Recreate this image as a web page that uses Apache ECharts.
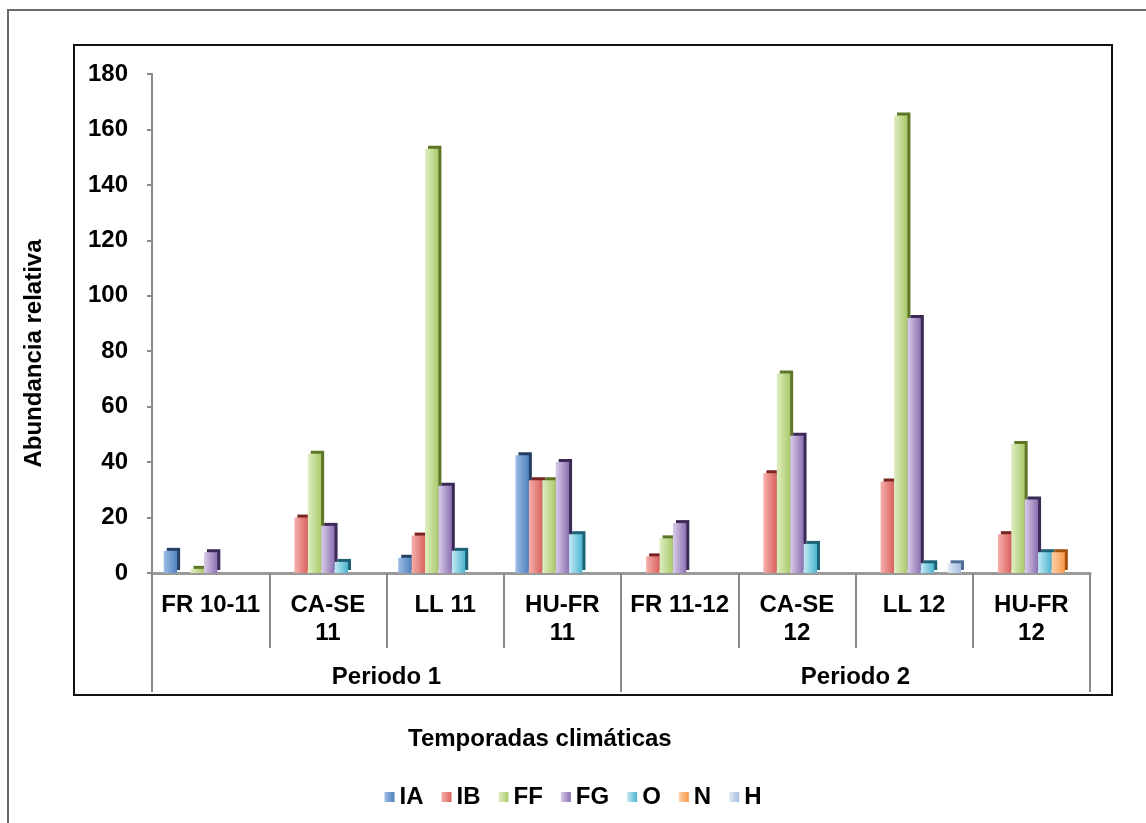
<!DOCTYPE html>
<html>
<head>
<meta charset="utf-8">
<script src="https://cdn.jsdelivr.net/npm/echarts@6/dist/echarts.min.js"></script>
<style>
  html, body { margin: 0; padding: 0; background: #fff; }
  #chart { width: 1146px; height: 823px; }
</style>
</head>
<body>
<div id="chart"></div>
<script>
// Seasons (two-line labels) and the two sampling periods
const temporadas = ['FR 10-11', 'CA-SE\n11', 'LL 11', 'HU-FR\n11', 'FR 11-12', 'CA-SE\n12', 'LL 12', 'HU-FR\n12'];
const periodos = ['Periodo 1', 'Periodo 2'];

// Relative abundance per group and season
const IA = [8, 0, 5.5, 42.5, 0, 0, 0, 0];
const IB = [0, 20, 13.5, 33.5, 6, 36, 33, 14];
const FF = [1.5, 43, 153, 33.5, 12.5, 72, 165, 46.5];
const FG = [7.5, 17, 31.5, 40, 18, 49.5, 92, 26.5];
const O  = [0, 4, 8, 14, 0, 10.5, 3.5, 7.5];
const N  = [0, 0, 0, 0, 0, 0, 0, 7.5];
const H  = [0, 0, 0, 0, 0, 0, 3.5, 0];

const yTicks = { min: 0, max: 180, interval: 20 };

const FONT = '"Liberation Sans", Arial, sans-serif';
const FS = 24;

// name, values, light face, base colour, dark side
const groups = [
  ['IA', IA, '#9dbde6', '#4f81bd', '#243f66'],
  ['IB', IB, '#f6b0ad', '#d9625e', '#7a2522'],
  ['FF', FF, '#e0eec2', '#a9c96a', '#5d7628'],
  ['FG', FG, '#d9cdea', '#8c70b0', '#3b2a55'],
  ['O',  O,  '#c4eaf4', '#4bb4d0', '#1d6274'],
  ['N',  N,  '#fdd3ad', '#f79646', '#a4530d'],
  ['H',  H,  '#e2ebf6', '#a3bde0', '#4f6f99']
];

const series = groups.map(([name, vals, light, base, dark]) => ({
  name: name,
  type: 'bar',
  data: vals,
  barGap: '0%',
  barCategoryGap: '20%',
  itemStyle: {
    color: {
      type: 'linear', x: 0, y: 0, x2: 1, y2: 0,
      colorStops: [{ offset: 0, color: light }, { offset: 1, color: base }]
    },
    shadowColor: dark,
    shadowOffsetX: 3,
    shadowOffsetY: -3,
    shadowBlur: 0
  }
}));

const chart = echarts.init(document.getElementById('chart'), null, { renderer: 'canvas' });

chart.setOption({
  animation: false,
  backgroundColor: '#fff',
  textStyle: { fontFamily: FONT },
  grid: { left: 152, right: 56, top: 74, bottom: 250, containLabel: false },
  legend: {
    data: groups.map(g => ({ name: g[0], icon: 'rect' })),
    bottom: 9,
    left: 'center',
    itemWidth: 10,
    itemHeight: 10,
    itemGap: 18,
    textStyle: { fontFamily: FONT, fontWeight: 'bold', fontSize: FS, color: '#000' }
  },
  xAxis: [
    {
      type: 'category',
      data: temporadas,
      position: 'bottom',
      axisLine: { show: true, lineStyle: { color: '#9a9a9a', width: 3 } },
      axisTick: { show: true, interval: 0, length: 75, lineStyle: { color: '#8a8a8a', width: 2 } },
      axisLabel: {
        interval: 0, margin: 18,
        fontFamily: FONT, fontWeight: 'bold', fontSize: FS, color: '#000',
        lineHeight: 28, verticalAlign: 'top'
      },
      splitLine: { show: false }
    },
    {
      type: 'category',
      data: periodos,
      position: 'bottom',
      axisLine: { show: false },
      axisTick: { show: true, interval: 0, length: 119, lineStyle: { color: '#8a8a8a', width: 2 } },
      axisLabel: {
        interval: 0, margin: 92,
        fontFamily: FONT, fontWeight: 'bold', fontSize: FS, color: '#000',
        verticalAlign: 'top'
      },
      splitLine: { show: false }
    }
  ],
  yAxis: {
    type: 'value',
    min: yTicks.min, max: yTicks.max, interval: yTicks.interval,
    name: 'Abundancia relativa',
    nameLocation: 'middle',
    nameGap: 106,
    nameRotate: 90,
    nameTextStyle: {
      fontFamily: FONT, fontWeight: 'bold', fontSize: FS, color: '#000',
      padding: [0, 60, 0, 0]
    },
    axisLine: { show: true, lineStyle: { color: '#8a8a8a', width: 2 } },
    axisTick: { show: true, length: 5, lineStyle: { color: '#8a8a8a', width: 2 } },
    axisLabel: { margin: 24, fontFamily: FONT, fontWeight: 'bold', fontSize: FS, color: '#000' },
    splitLine: { show: false }
  },
  title: {
    text: 'Temporadas climáticas',
    left: 403,
    top: 722,
    textStyle: { fontFamily: FONT, fontWeight: 'bold', fontSize: FS, color: '#000' }
  },
  graphic: [
    { type: 'rect', silent: true, shape: { x: 8, y: 10, width: 1150, height: 830 },
      style: { fill: null, stroke: '#6a6a6a', lineWidth: 2 } },
    { type: 'rect', silent: true, shape: { x: 74, y: 45, width: 1038, height: 650 },
      style: { fill: null, stroke: '#111', lineWidth: 2 } }
  ],
  series: series
});
</script>
</body>
</html>
